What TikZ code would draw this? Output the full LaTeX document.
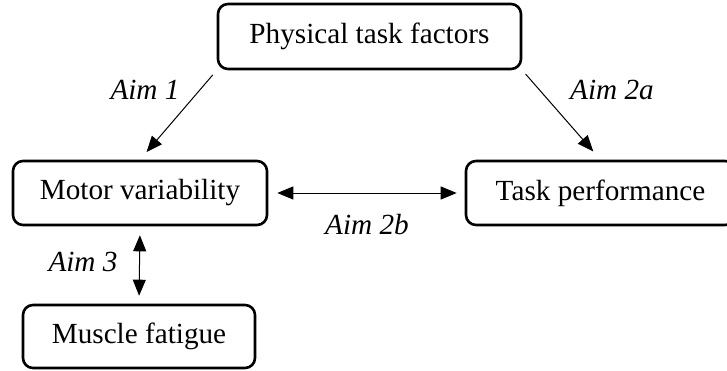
\documentclass[tikz,border=0pt]{standalone}
\usepackage{fontspec}
\setmainfont{Liberation Serif}
\usetikzlibrary{arrows.meta}

\begin{document}
\begin{tikzpicture}[
            x = 0.5pt, y = -0.5pt, % one unit per pixel, y down
            > = {Triangle[length=8pt, width=6.5pt]}, % arrow head style
            line width = 0.5pt,
            font = \fontsize{14.6}{17}\selectfont
        ]

        \tikzstyle{box}=[
            draw = black,
            line width = 1.3pt,
            rounded corners = 5pt,
            rectangle,
            inner sep = 0pt
        ]
        \tikzstyle{aim}=[font = \fontsize{14.6}{17}\selectfont\itshape]

        \useasboundingbox (0,0) rectangle (727,370);
        \clip (0,0) rectangle (727,370);

        \node[box, minimum width = 151.5pt, minimum height = 32.5pt] (phys)   at ( 369.5,  36.5 ) {Physical task factors};
        \node[box, minimum width = 127pt,   minimum height = 32pt]   (motor)  at ( 140  , 193   ) {Motor variability};
        \node[box, minimum width = 134.5pt, minimum height = 32pt]   (perf)   at ( 600.5, 193   ) {Task performance};
        \node[box, minimum width = 116pt,   minimum height = 31.5pt] (musc)   at ( 139  , 336.5 ) {Muscle fatigue};

        \node[aim] (a1)  at ( 145,  90 ) {Aim 1};
        \node[aim] (a2a) at ( 612,  90 ) {Aim 2a};
        \node[aim] (a2b) at ( 367, 225 ) {Aim 2b};
        \node[aim] (a3)  at (  83, 262 ) {Aim 3};

        \draw[->, shorten < = 3pt, shorten > = 5pt]     (phys.south west) -- (motor.north);
        \draw[->, shorten < = 2.5pt, shorten > = 5.5pt] (phys.south east) -- (perf.north);
        \draw[<->, shorten < = 4.5pt, shorten > = 4pt]  (motor.east) -- (perf.west);
        \draw[<->, shorten < = 4.5pt, shorten > = 4pt]  (motor.south) -- (musc.north);

    \end{tikzpicture}
\end{document}
